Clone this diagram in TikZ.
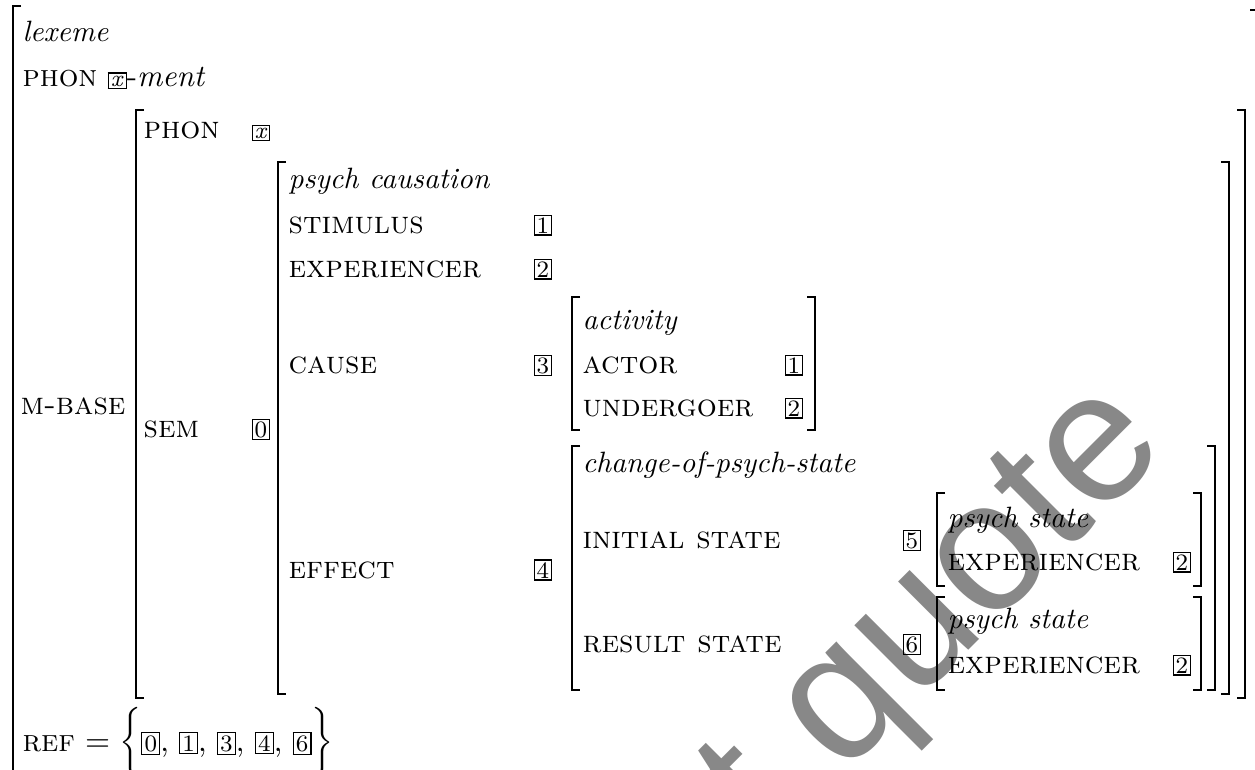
\documentclass[tikz,border=0pt]{standalone}
\usepackage{fontspec}
\newfontfamily\markfont{Liberation Sans}
\definecolor{markgray}{RGB}{136,136,136}
\newcommand{\tagbox}[1]{{\setlength{\fboxsep}{0.7pt}\fbox{\footnotesize #1}}}

\begin{document}
\begin{tikzpicture}[x=0.34pt,y=-0.34pt,font=\fontsize{10.5}{13}\selectfont,
  brk/.style={line width=0.75pt},
  feat/.style={anchor=base west,inner sep=0pt,font=\fontsize{10.7}{13}\selectfont\scshape},
  type/.style={anchor=base west,inner sep=0pt,font=\itshape},
  tagnode/.style={anchor=base west,draw,line width=0.4pt,inner sep=0.7pt,font=\footnotesize},
  wmark/.style={text=markgray,inner sep=0pt,font=\markfont\fontsize{63}{63}\selectfont}]

\useasboundingbox (0,0) rectangle (1255,769);
\clip (0,0) rectangle (1255,769);

\node[wmark,rotate=45,anchor=base east] (mark) at (1171,448) {t quote};

% outer matrix
\node[type] (lex) at (22,41) {lexeme};
\node[anchor=base west,inner sep=0pt] (phon0) at (22,86) {\textsc{phon} \tagbox{\textit{x}}-\textit{ment}};
\node[feat] (mbase) at (20,414) {m-base};
\node[anchor=base west,inner sep=0pt] (ref) at (22,751) {\textsc{ref} $=\bigg\{$\tagbox{0}, \tagbox{1}, \tagbox{3}, \tagbox{4}, \tagbox{6}$\bigg\}$};

% m-base
\node[feat] (phon1) at (143,138) {phon};
\node[tagnode] (tx) at (252,138) {\textit{x}};
\node[feat] (sem) at (143,437) {sem};
\node[tagnode] (t0) at (252,437) {0};

% psych causation
\node[type] (psy) at (288,188) {psych causation};
\node[feat] (stim) at (288,233) {stimulus};
\node[tagnode] (t1a) at (534,233) {1};
\node[feat] (exp) at (288,277) {experiencer};
\node[tagnode] (t2a) at (534,277) {2};
\node[feat] (cause) at (288,373) {cause};
\node[tagnode] (t3) at (534,373) {3};
\node[feat] (effect) at (288,578) {effect};
\node[tagnode] (t4) at (534,578) {4};

% activity
\node[type] (act) at (582,329) {activity};
\node[feat] (actor) at (582,373) {actor};
\node[tagnode] (t1b) at (785,373) {1};
\node[feat] (under) at (582,416) {undergoer};
\node[tagnode] (t2b) at (785,416) {2};

% change of state
\node[type] (chg) at (582,472) {change-of-psych-state};
\node[feat] (init) at (582,548) {initial state};
\node[tagnode] (t5) at (903,548) {5};
\node[feat] (res) at (582,652) {result state};
\node[tagnode] (t6) at (903,652) {6};

\node[type] (ps1) at (947,527) {psych state};
\node[feat] (exp1) at (947,570) {experiencer};
\node[tagnode] (t2c) at (1173,570) {2};
\node[type] (ps2) at (947,628) {psych state};
\node[feat] (exp2) at (947,673) {experiencer};
\node[tagnode] (t2d) at (1173,673) {2};

% brackets
\draw[brk] (21,6) -- (13,6) -- (13,780);
\draw[brk] (1250,10) -- (1258,10) -- (1258,780);
\draw[brk] (144,110) -- (136,110) -- (136,698) -- (144,698);
\draw[brk] (1237,110) -- (1245,110) -- (1245,698) -- (1237,698);
\draw[brk] (286,162) -- (278,162) -- (278,694) -- (286,694);
\draw[brk] (1221,162) -- (1229,162) -- (1229,694) -- (1221,694);
\draw[brk] (580,297) -- (572,297) -- (572,430) -- (580,430);
\draw[brk] (807,297) -- (815,297) -- (815,430) -- (807,430);
\draw[brk] (580,446) -- (572,446) -- (572,690) -- (580,690);
\draw[brk] (1207,446) -- (1215,446) -- (1215,690) -- (1207,690);
\draw[brk] (945,493) -- (937,493) -- (937,586) -- (945,586);
\draw[brk] (1193,493) -- (1201,493) -- (1201,586) -- (1193,586);
\draw[brk] (945,597) -- (937,597) -- (937,690) -- (945,690);
\draw[brk] (1193,597) -- (1201,597) -- (1201,690) -- (1193,690);

\end{tikzpicture}
\end{document}
